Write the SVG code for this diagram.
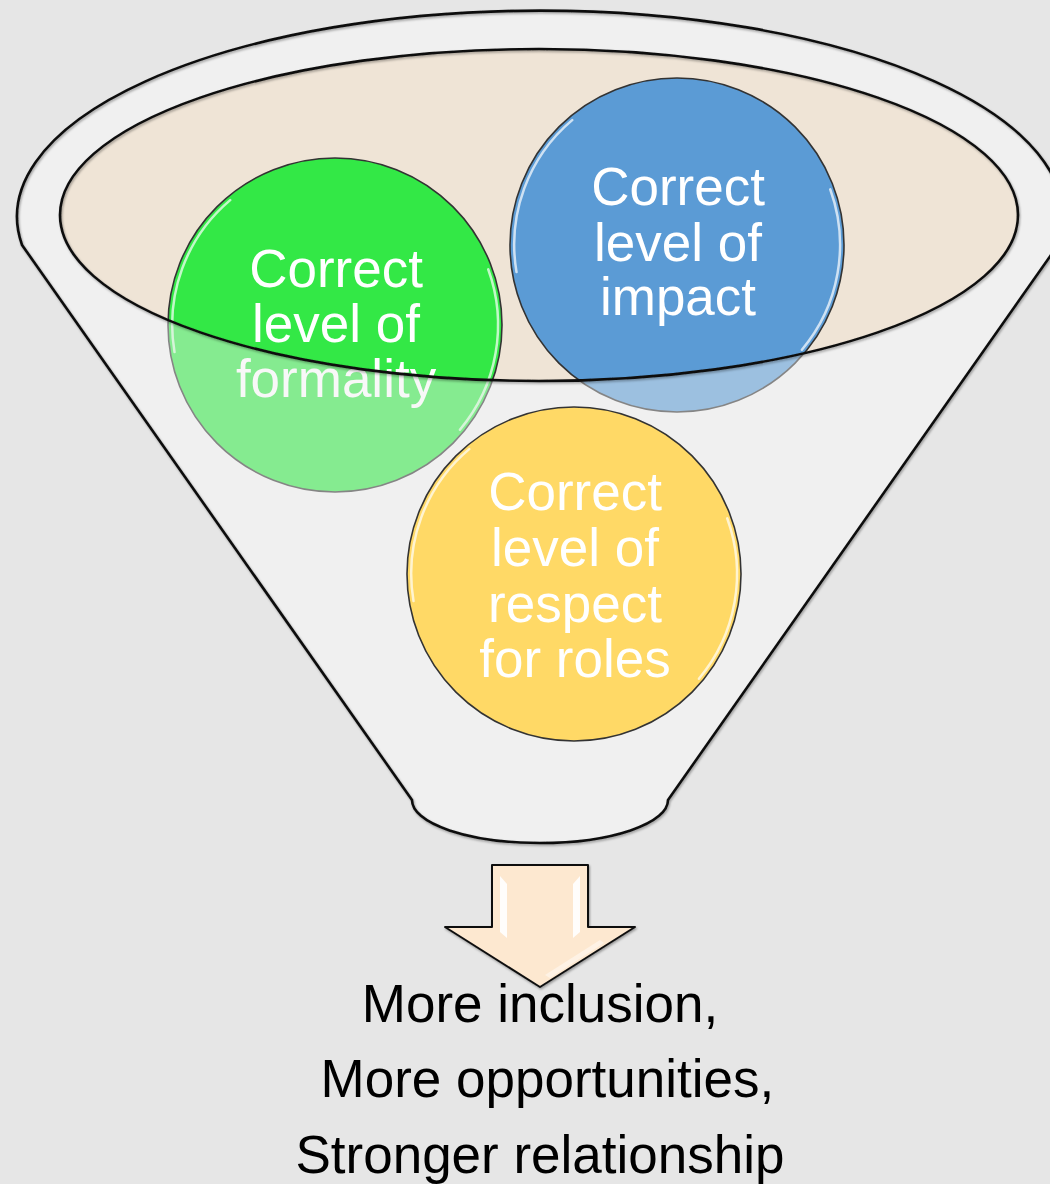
<svg xmlns="http://www.w3.org/2000/svg" width="1050" height="1184" viewBox="0 0 1050 1184">
  <style>
    .outline { fill: none; stroke: #111; stroke-width: 2.6; stroke-linejoin: round; }
    .bubble { stroke: #333; stroke-width: 1.6; }
    .gloss { fill: none; stroke: #ffffff; stroke-width: 2.5; stroke-linecap: round; opacity: 0.7; }
    .label { font-family: "Liberation Sans", Arial, sans-serif; font-size: 53px; fill: #ffffff; text-anchor: middle; }
    .outcome { font-family: "Liberation Sans", Arial, sans-serif; font-size: 53px; fill: #000000; text-anchor: middle; }
  </style>
  <defs>
    <filter id="soft" x="-5%" y="-5%" width="110%" height="110%">
      <feDropShadow dx="1" dy="1.5" stdDeviation="1.2" flood-color="#000" flood-opacity="0.35"/>
    </filter>
    <!-- funnel silhouette: rim ellipse on top, straight walls, rounded spout -->
    <path id="funnelShape" d="M22,245 L412,800 A128 43 0 0 0 668,800 L1058,245 A523 206 0 1 0 22,245 Z"/>
    <path id="rimShape" d="M60,215 A479 166 0 1 0 1018,215 A479 166 0 1 0 60,215 Z"/>
    <!-- glossy highlight arcs for a bubble of radius 167 -->
    <g id="bubbleGloss">
      <path class="gloss" d="M-160.5,27 A163 163 0 0 1 -104.8,-124.9"/>
      <path class="gloss" d="M153.2,-55.7 A163 163 0 0 1 124.9,104.8"/>
    </g>
  </defs>

  <!-- page background -->
  <rect width="1050" height="1184" fill="#e6e6e6"/>

  <!-- funnel body and opening -->
  <g id="funnel-back">
    <use href="#funnelShape" fill="#f0f0f0"/>
    <use href="#rimShape" fill="#efe4d6"/>
  </g>

  <!-- bubbles sitting inside the funnel -->
  <g id="node-formality" transform="translate(335,325)">
    <circle r="167" class="bubble" fill="#33e846"/>
    <use href="#bubbleGloss"/>
    <text class="label" x="1" y="-38">Correct</text>
    <text class="label" x="1" y="17">level of</text>
    <text class="label" x="1" y="72">formality</text>
  </g>

  <g id="node-impact" transform="translate(677,245)">
    <circle r="167" class="bubble" fill="#5b9bd5"/>
    <use href="#bubbleGloss"/>
    <text class="label" x="1" y="-40">Correct</text>
    <text class="label" x="1" y="16">level of</text>
    <text class="label" x="1" y="70">impact</text>
  </g>

  <!-- translucent front wall of the funnel, below the opening -->
  <g id="funnel-front">
    <path d="M22,245 L412,800 A128 43 0 0 0 668,800 L1058,245 A523 206 0 1 0 22,245 Z M60,215 A479 166 0 1 0 1018,215 A479 166 0 1 0 60,215 Z" fill="#f0f0f0" fill-rule="evenodd" opacity="0.44"/>
    <g filter="url(#soft)">
      <use href="#funnelShape" class="outline"/>
      <use href="#rimShape" class="outline"/>
    </g>
  </g>

  <g id="node-respect" transform="translate(574,574)">
    <circle r="167" class="bubble" fill="#ffd966"/>
    <use href="#bubbleGloss"/>
    <text class="label" x="1" y="-64">Correct</text>
    <text class="label" x="1" y="-8">level of</text>
    <text class="label" x="1" y="48">respect</text>
    <text class="label" x="1" y="103">for roles</text>
  </g>

  <!-- block arrow out of the spout -->
  <g id="connectors">
    <path d="M492,865 L588,865 L588,927 L635,927 L540,987 L445,927 L492,927 Z" fill="#fde8d0" stroke="#111" stroke-width="2" stroke-linejoin="round" filter="url(#soft)"/>
    <path d="M500,876 L507,884 L507,938 L500,932 Z" fill="#ffffff" opacity="0.9"/>
    <path d="M580,876 L573,884 L573,938 L580,932 Z" fill="#ffffff" opacity="0.9"/>
    <path d="M545,975 L600,940 L604,943 L550,978 Z" fill="#ffffff" opacity="0.45"/>
  </g>

  <!-- result text -->
  <g id="outcome">
    <text class="outcome" x="540" y="1022">More inclusion,</text>
    <text class="outcome" x="540" y="1097" xml:space="preserve"> More opportunities,</text>
    <text class="outcome" x="540" y="1173">Stronger relationship</text>
  </g>
</svg>
